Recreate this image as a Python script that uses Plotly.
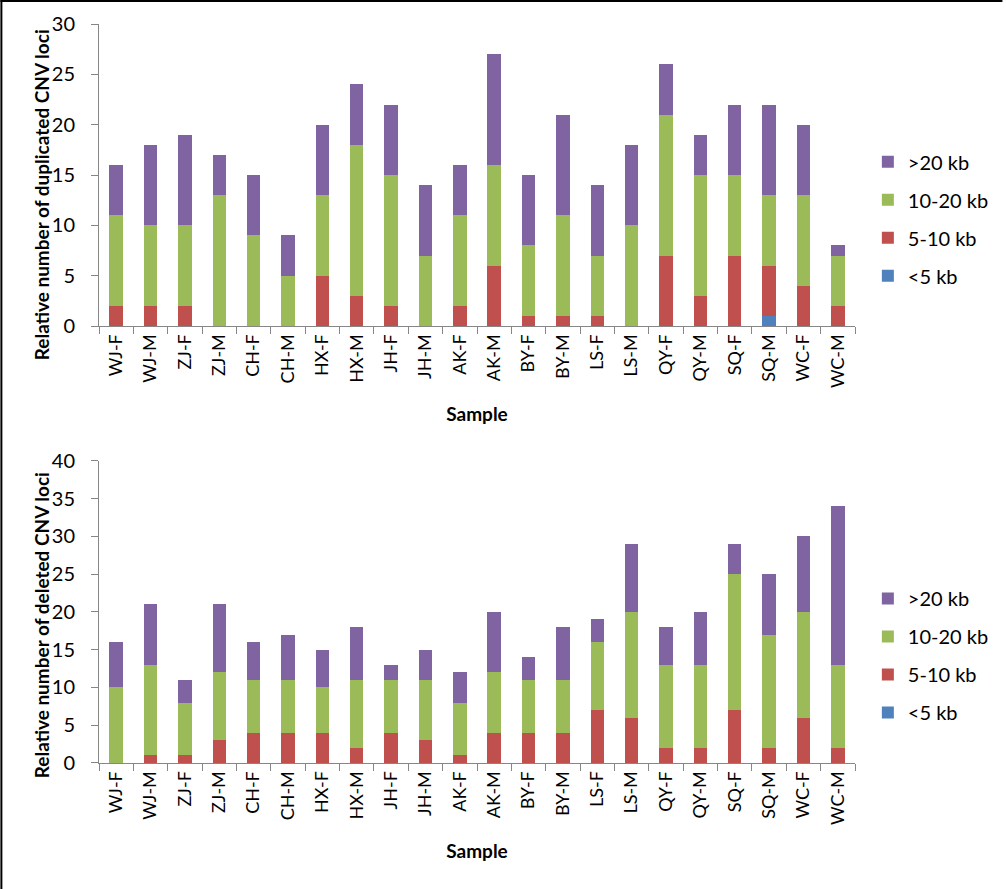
import plotly.graph_objects as go

samples = ["WJ-F", "WJ-M", "ZJ-F", "ZJ-M", "CH-F", "CH-M", "HX-F", "HX-M", "JH-F", "JH-M", "AK-F",
           "AK-M", "BY-F", "BY-M", "LS-F", "LS-M", "QY-F", "QY-M", "SQ-F", "SQ-M", "WC-F", "WC-M"]

# Duplicated CNV loci (top chart)
dup_lt5 = [0, 0, 0, 0, 0, 0, 0, 0, 0, 0, 0, 0, 0, 0, 0, 0, 0, 0, 0, 1, 0, 0]
dup_5_10 = [2, 2, 2, 0, 0, 0, 5, 3, 2, 0, 2, 6, 1, 1, 1, 0, 7, 3, 7, 5, 4, 2]
dup_10_20 = [9, 8, 8, 13, 9, 5, 8, 15, 13, 7, 9, 10, 7, 10, 6, 10, 14, 12, 8, 7, 9, 5]
dup_gt20 = [5, 8, 9, 4, 6, 4, 7, 6, 7, 7, 5, 11, 7, 10, 7, 8, 5, 4, 7, 9, 7, 1]

# Deleted CNV loci (bottom chart)
del_lt5 = [0] * 22
del_5_10 = [0, 1, 1, 3, 4, 4, 4, 2, 4, 3, 1, 4, 4, 4, 7, 6, 2, 2, 7, 2, 6, 2]
del_10_20 = [10, 12, 7, 9, 7, 7, 6, 9, 7, 8, 7, 8, 7, 7, 9, 14, 11, 11, 18, 15, 14, 11]
del_gt20 = [6, 8, 3, 9, 5, 6, 5, 7, 2, 4, 4, 8, 3, 7, 3, 9, 5, 7, 4, 8, 10, 21]

series_names = ["<5 kb", "5-10 kb", "10-20 kb", ">20 kb"]
colors = ["#4F81BD", "#C0504D", "#9BBB59", "#8064A2"]

FONT = "Lato"
fig = go.Figure()

for i, (name, col, vals) in enumerate(zip(series_names, colors, [dup_lt5, dup_5_10, dup_10_20, dup_gt20])):
    fig.add_trace(go.Bar(x=samples, y=vals, name=name, marker=dict(color=col, line=dict(width=0)),
                         xaxis="x", yaxis="y", legend="legend", legendgroup="a" + name,
                         legendrank=10 - i))
for i, (name, col, vals) in enumerate(zip(series_names, colors, [del_lt5, del_5_10, del_10_20, del_gt20])):
    fig.add_trace(go.Bar(x=samples, y=vals, name=name, marker=dict(color=col, line=dict(width=0)),
                         xaxis="x2", yaxis="y2", legend="legend2", legendgroup="b" + name,
                         legendrank=10 - i))

axis_col = "#868686"
xcommon = dict(type="category", showline=True, linecolor=axis_col, linewidth=1, ticks="outside",
               tickson="boundaries", ticklen=7, tickcolor=axis_col, tickangle=-90,
               tickfont=dict(family=FONT, size=18, color="#000"), showgrid=False, zeroline=False,
               title=dict(text="<b>Sample</b>", font=dict(family=FONT, size=19, color="#000"), standoff=20))
ycommon = dict(showline=True, linecolor=axis_col, linewidth=1, ticks="outside", ticklen=7,
               tickcolor=axis_col, dtick=5, tickfont=dict(family=FONT, size=20, color="#000"),
               showgrid=False, zeroline=False, ticklabelstandoff=12)

legcommon = dict(font=dict(family=FONT, size=20, color="#000"), traceorder="grouped",
                 tracegroupgap=9, itemwidth=30, bgcolor="rgba(0,0,0,0)", xanchor="left", yanchor="top")

title_font = dict(family=FONT, size=19, color="#000")

fig.update_layout(
    width=1006, height=889,
    margin=dict(l=99, r=148, t=24, b=126),
    paper_bgcolor="white", plot_bgcolor="white",
    barmode="stack", bargap=0.61,
    xaxis=dict(domain=[0, 1], anchor="y", **xcommon),
    xaxis2=dict(domain=[0, 1], anchor="y2", **xcommon),
    yaxis=dict(domain=[0.5913, 1], anchor="x", range=[0, 30], **ycommon),
    yaxis2=dict(domain=[0, 0.409], anchor="x2", range=[0, 40], **ycommon),
    legend=dict(x=1.017, y=0.840, **legcommon),
    legend2=dict(x=1.017, y=0.249, **legcommon),
    showlegend=True,
    annotations=[
        dict(text="<b>Relative number of duplicated CNV loci</b>", xref="paper", yref="paper",
             x=-0.0764, y=0.7686, xanchor="center", yanchor="middle", textangle=-90,
             showarrow=False, font=title_font),
        dict(text="<b>Relative number of deleted CNV loci</b>", xref="paper", yref="paper",
             x=-0.0764, y=0.1867, xanchor="center", yanchor="middle", textangle=-90,
             showarrow=False, font=title_font),
    ],
    shapes=[
        dict(type="line", xref="paper", yref="paper", x0=-0.12912, x1=-0.12912, y0=-0.1705, y1=1.0325,
             line=dict(color="black", width=2)),
        dict(type="line", xref="paper", yref="paper", x0=-0.1304, x1=1.195, y0=1.03112, y1=1.03112,
             line=dict(color="black", width=2)),
    ],
)

fig.write_html("out.html", config={"displayModeBar": False},
               post_script="document.body.style.margin='0';")
